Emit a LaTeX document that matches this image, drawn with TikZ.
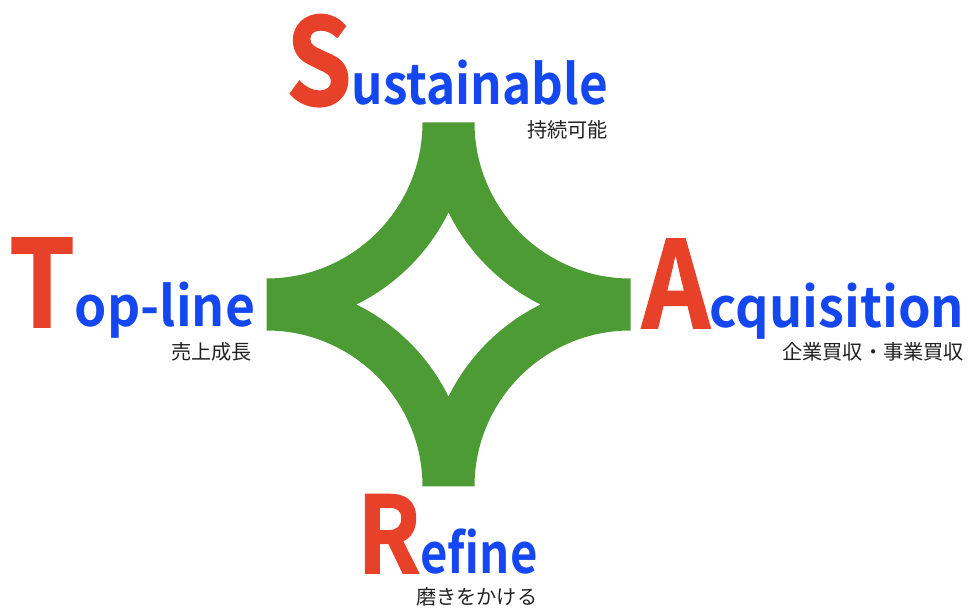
\documentclass[tikz,border=0pt]{standalone}
\usepackage{fontspec}
\newfontfamily\bluefont{Noto Sans CJK JP Bold}
\newfontfamily\redfont{Noto Sans CJK JP Bold}[FakeBold=1.5]
\newfontfamily\capfont{Noto Sans CJK JP}
\definecolor{stargreen}{HTML}{4D9B34}
\definecolor{letterred}{HTML}{E8412A}
\definecolor{wordblue}{HTML}{1447F0}
\definecolor{capgray}{HTML}{222222}
\tikzset{
  word/.style={inner sep=0pt, outer sep=0pt, anchor=base west},
  caption/.style={inner sep=0pt, outer sep=0pt, anchor=base east, text=capgray,
    font=\capfont\fontsize{20.2}{20.2}\selectfont},
}
\newcommand{\bigred}[2]{{\redfont\fontsize{#1}{#1}\selectfont\color{letterred}\scalebox{0.88}[1]{#2}}}
\newcommand{\blueword}[3]{{\bluefont\fontsize{#1}{#1}\selectfont\color{wordblue}\scalebox{#2}[1]{#3}}}
\begin{document}
\begin{tikzpicture}[x=1pt,y=1pt]
\useasboundingbox (0,0) rectangle (969,608);
\def\cx{448.5}\def\cy{303.5}\def\hh{182}\def\ra{156}\def\rb{203}
\pgfmathsetmacro\dd{sqrt((\rb-\hh)*(\rb+\hh))}
\pgfmathsetmacro\ang{atan(\dd/\hh)}
\pgfmathsetmacro\aA{-\ang}
\pgfmathsetmacro\aB{\ang-90}
\pgfmathsetmacro\aC{90-\ang}
\pgfmathsetmacro\aD{180-\ang}
\pgfmathsetmacro\aE{90+\ang}
\pgfmathsetmacro\aF{270-\ang}
\pgfmathsetmacro\aG{180+\ang}
\fill[stargreen, even odd rule]
  (\cx-\hh+\ra, \cy+\hh) -- (\cx+\hh-\ra, \cy+\hh)
  arc[start angle=180, end angle=270, radius=\ra]
  -- (\cx+\hh, \cy-\hh+\ra)
  arc[start angle=90, end angle=180, radius=\ra]
  -- (\cx-\hh+\ra, \cy-\hh)
  arc[start angle=0, end angle=90, radius=\ra]
  -- (\cx-\hh, \cy+\hh-\ra)
  arc[start angle=270, end angle=360, radius=\ra]
  -- cycle
  (\cx, \cy+\hh-\dd)
  arc[start angle=\aA, end angle=\aB, radius=\rb]
  arc[start angle=\aC, end angle=\ang, radius=\rb]
  arc[start angle=\aD, end angle=\aE, radius=\rb]
  arc[start angle=\aF, end angle=\aG, radius=\rb]
  -- cycle;
% words
\node[word] (sus) at (286,503) {\bigred{120}{S}\blueword{55}{0.9}{ustainable}};
\node[caption] (susj) at (608,470) {持続可能};
\node[word] (top) at (9,281) {\bigred{120}{T}\blueword{55}{0.94}{op-line}};
\node[caption] (topj) at (252,248) {売上成長};
\node[word] (acq) at (642,280) {\bigred{120}{A}\blueword{55}{0.95}{cquisition}};
\node[caption] (acqj) at (964,248) {企業買収・事業買収};
\node[word] (ref) at (357,35) {\bigred{106}{R}\blueword{55}{0.86}{efine}};
\node[caption, anchor=base west] (refj) at (416,4) {磨きをかける};
\end{tikzpicture}
\end{document}
